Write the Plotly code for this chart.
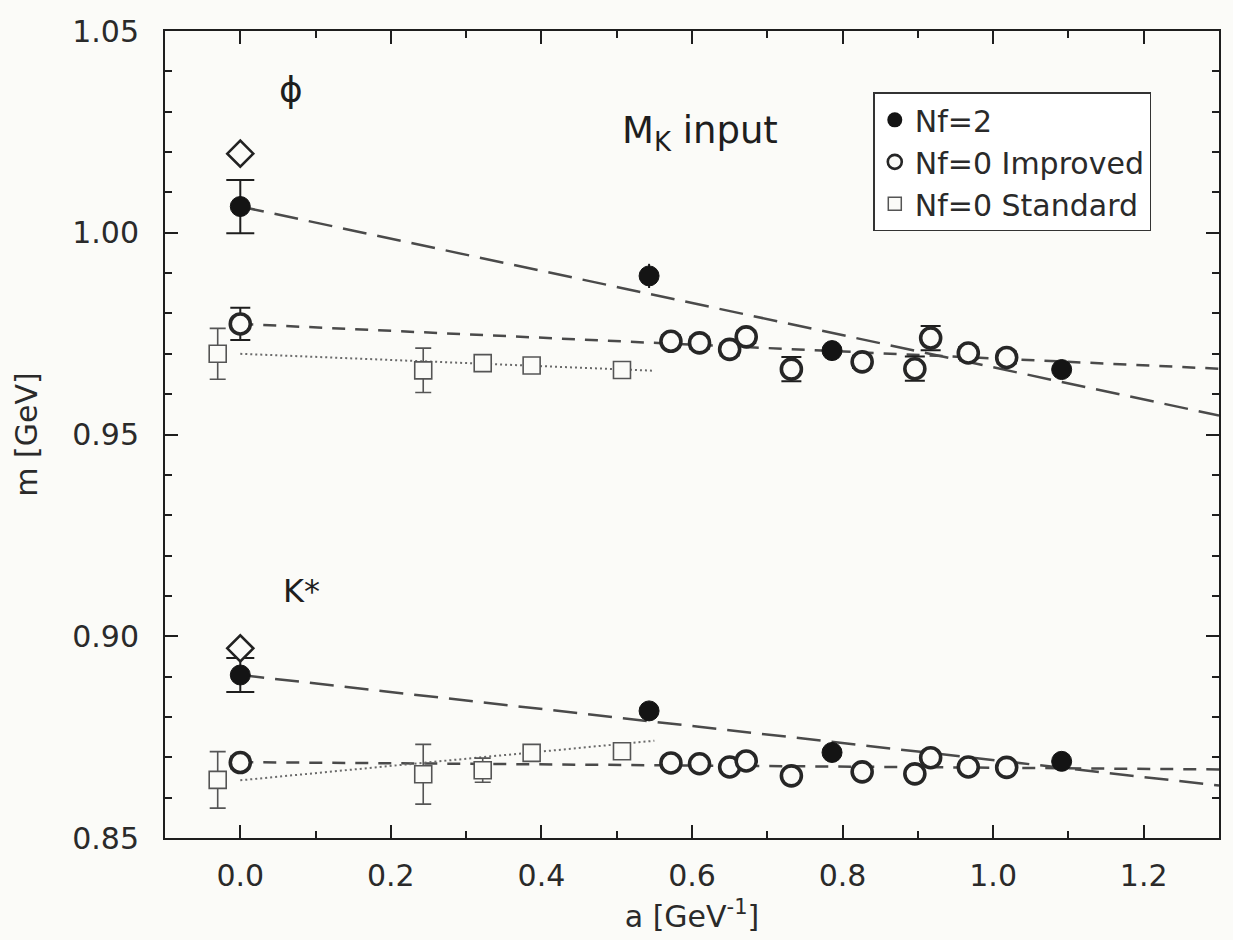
import plotly.graph_objects as go

# ---------------- data ----------------
# Nf=2 (filled circles)
nf2_a = [0.0, 0.543, 0.786, 1.091]
phi_nf2 = [1.0065, 0.9893, 0.9708, 0.9661]
phi_nf2_err = [0.0066, 0.0030, 0.0012, 0.0012]
kst_nf2 = [0.8904, 0.8815, 0.8712, 0.8690]
kst_nf2_err = [0.0042, 0.0012, 0.0010, 0.0010]

# Nf=0 Improved (open circles)
imp_a = [0.0, 0.572, 0.610, 0.650, 0.672, 0.732, 0.826, 0.896, 0.917, 0.967, 1.018]
phi_imp = [0.9774, 0.9731, 0.9727, 0.9711, 0.9742, 0.9662, 0.9680, 0.9663, 0.9739, 0.9702, 0.9691]
phi_imp_err = [0.0040, 0.0015, 0.0015, 0.0015, 0.0015, 0.0030, 0.0015, 0.0030, 0.0030, 0.0015, 0.0015]
kst_imp = [0.8687, 0.8686, 0.8684, 0.8676, 0.8691, 0.8654, 0.8664, 0.8659, 0.8699, 0.8676, 0.8675]
kst_imp_err = [0.0015, 0.0010, 0.0010, 0.0010, 0.0010, 0.0010, 0.0010, 0.0010, 0.0010, 0.0010, 0.0010]

# Nf=0 Standard (open squares)
std_a = [-0.03, 0.243, 0.322, 0.387, 0.507]
phi_std = [0.9700, 0.9659, 0.9677, 0.9671, 0.9660]
phi_std_err = [0.0063, 0.0055, 0.0015, 0.0010, 0.0010]
kst_std = [0.8644, 0.8658, 0.8668, 0.8711, 0.8715]
kst_std_err = [0.0070, 0.0074, 0.0030, 0.0015, 0.0015]

# experimental values (diamonds)
exp_a = [0.0, 0.0]
exp_m = [1.0196, 0.8970]

# continuum fit lines (end points)
fit_a = [0.0, 1.3]
phi_nf2_fit = [1.0065, 0.9547]
phi_imp_fit = [0.9774, 0.9663]
kst_nf2_fit = [0.8904, 0.8630]
kst_imp_fit = [0.8688, 0.8670]
fit_std_a = [0.0, 0.55]
phi_std_fit = [0.9700, 0.9658]
kst_std_fit = [0.8643, 0.8741]

x_ticks = [0.0, 0.2, 0.4, 0.6, 0.8, 1.0, 1.2]
y_ticks = [0.85, 0.90, 0.95, 1.00, 1.05]

# ---------------- style ----------------
BG = "#fbfbf8"
INK = "#1e1e1e"
FONT = "DejaVu Sans"

fig = go.Figure()

def line(x, y, dash, color="#4a4a4a", width=2.5):
    fig.add_trace(go.Scatter(x=x, y=y, mode="lines", showlegend=False,
                             line=dict(color=color, width=width, dash=dash),
                             hoverinfo="skip"))

# fit lines
line(fit_a, phi_nf2_fit, "24px,11px")
line(fit_a, kst_nf2_fit, "24px,11px")
line(fit_a, phi_imp_fit, "13px,10px")
line(fit_a, kst_imp_fit, "13px,10px")
line(fit_std_a, phi_std_fit, "2px,3px", color="#6a6a6a", width=2)
line(fit_std_a, kst_std_fit, "2px,3px", color="#6a6a6a", width=2)

def pts(x, y, err, marker, cap, ecolor=INK, ethick=2):
    fig.add_trace(go.Scatter(
        x=x, y=y, mode="markers", showlegend=False, marker=marker,
        error_y=dict(type="data", array=err, visible=True, color=ecolor,
                     thickness=ethick, width=cap)))

std_marker = dict(symbol="square", size=17, color=BG,
                  line=dict(color="#555555", width=1.6))
imp_marker = dict(symbol="circle", size=20, color=BG,
                  line=dict(color="#262626", width=3.6))
nf2_marker = dict(symbol="circle", size=20, color="#141414",
                  line=dict(color="#141414", width=1))

pts(std_a, phi_std, phi_std_err, std_marker, 8, ecolor="#555555", ethick=1.6)
pts(std_a, kst_std, kst_std_err, std_marker, 8, ecolor="#555555", ethick=1.6)
pts(imp_a, phi_imp, phi_imp_err, imp_marker, 10)
pts(imp_a, kst_imp, kst_imp_err, imp_marker, 10)
# continuum (a=0) Nf=2 points carry wide caps; finite-a points show bare bars
pts(nf2_a[:1], phi_nf2[:1], phi_nf2_err[:1], nf2_marker, 14)
pts(nf2_a[:1], kst_nf2[:1], kst_nf2_err[:1], nf2_marker, 14)
pts(nf2_a[1:], phi_nf2[1:], phi_nf2_err[1:], nf2_marker, 0)
pts(nf2_a[1:], kst_nf2[1:], kst_nf2_err[1:], nf2_marker, 0)

fig.add_trace(go.Scatter(x=exp_a, y=exp_m, mode="markers", showlegend=False,
                         marker=dict(symbol="diamond", size=20, color=BG,
                                     line=dict(color="#222222", width=2.6))))

# legend-only entries
fig.add_trace(go.Scatter(x=[None], y=[None], mode="markers", name="Nf=2",
                         marker=dict(symbol="circle", size=15, color="#141414")))
fig.add_trace(go.Scatter(x=[None], y=[None], mode="markers", name="Nf=0 Improved",
                         marker=dict(symbol="circle", size=14, color=BG,
                                     line=dict(color="#262626", width=2.6))))
fig.add_trace(go.Scatter(x=[None], y=[None], mode="markers", name="Nf=0 Standard",
                         marker=dict(symbol="square", size=13, color=BG,
                                     line=dict(color="#555555", width=1.5))))

# labels
fig.add_annotation(x=0.068, y=1.0355, text="ϕ", showarrow=False,
                   font=dict(family=FONT, size=36, color=INK))
fig.add_annotation(x=0.610, y=1.0248, text="M<sub>K</sub> input", showarrow=False,
                   font=dict(family=FONT, size=37, color=INK))
fig.add_annotation(x=0.081, y=0.9112, text="K*", showarrow=False,
                   font=dict(family=FONT, size=32, color=INK))

axis_common = dict(showline=True, linecolor=INK, linewidth=2, mirror="ticks",
                   ticks="inside", ticklen=13, tickwidth=1.6, tickcolor=INK,
                   showgrid=False, zeroline=False,
                   tickfont=dict(family=FONT, size=30, color="#2a2a2a"))

fig.update_layout(
    width=1233, height=940,
    margin=dict(l=165, r=13, t=31, b=97),
    paper_bgcolor=BG, plot_bgcolor=BG,
    font=dict(family=FONT, color=INK),
    xaxis=dict(range=[-0.1, 1.3], tickvals=x_ticks, tickformat=".1f",
               minor=dict(dtick=0.1, tick0=0, ticks="inside", ticklen=7,
                          tickwidth=1.5, tickcolor=INK),
               ticklabelstandoff=10,
               title=dict(text="a [GeV<sup>-1</sup>]", standoff=14,
                          font=dict(family=FONT, size=30, color="#2a2a2a")),
               **axis_common),
    yaxis=dict(range=[0.85, 1.05], tickvals=y_ticks, tickformat=".2f",
               minor=dict(dtick=0.01, tick0=0.85, ticks="inside", ticklen=7,
                          tickwidth=1.5, tickcolor=INK),
               ticklabelstandoff=18,
               title=dict(text="m [GeV]", standoff=26,
                          font=dict(family=FONT, size=30, color="#2a2a2a")),
               **axis_common),
    legend=dict(x=0.672, y=0.924, xanchor="left", yanchor="top",
                bgcolor="#ffffff", bordercolor="#333333", borderwidth=1.5,
                font=dict(family=FONT, size=30, color="#2a2a2a"),
                itemwidth=30, tracegroupgap=0),
)

fig.write_html("out.html")
